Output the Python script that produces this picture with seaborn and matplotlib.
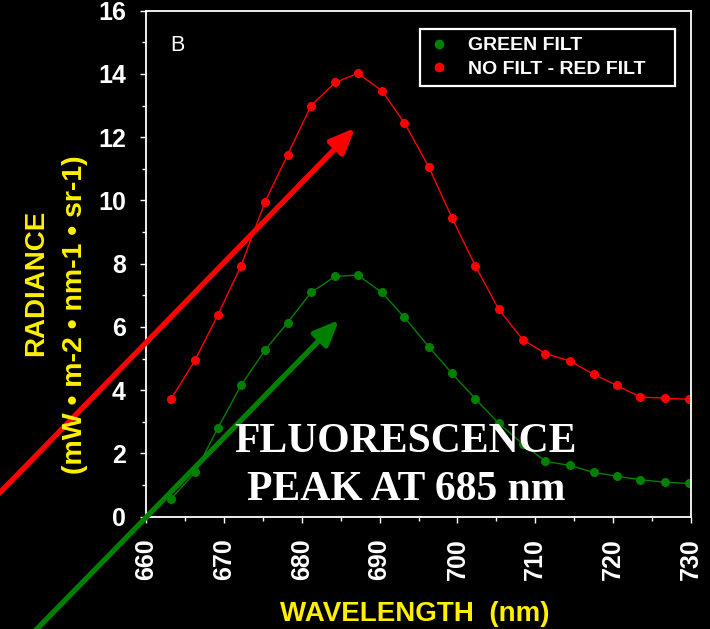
import numpy as np
import pandas as pd
import matplotlib
matplotlib.use("Agg")
import matplotlib.pyplot as plt
from matplotlib.lines import Line2D
from matplotlib.ticker import MultipleLocator
import seaborn as sns

# ---- data ----
wavelength = [663.2, 666.3, 669.2, 672.2, 675.3, 678.2, 681.2, 684.3, 687.2, 690.3,
              693.2, 696.3, 699.3, 702.3, 705.3, 708.4, 711.3, 714.5, 717.5, 720.5,
              723.5, 726.7, 729.7]
green_filt = [0.56, 1.40, 2.79, 4.15, 5.27, 6.14, 7.09, 7.60, 7.64, 7.09,
              6.30, 5.38, 4.53, 3.73, 2.95, 2.30, 1.75, 1.62, 1.40, 1.28,
              1.17, 1.09, 1.05]
red_diff = [3.71, 4.95, 6.37, 7.93, 9.96, 11.45, 13.0, 13.73, 14.02, 13.47,
            12.45, 11.07, 9.45, 7.93, 6.56, 5.60, 5.16, 4.92, 4.50, 4.15,
            3.78, 3.75, 3.71]
series_names = ["GREEN FILT", "NO FILT - RED FILT"]
x_ticks = [660, 670, 680, 690, 700, 710, 720, 730]
y_ticks = [0, 2, 4, 6, 8, 10, 12, 14, 16]

GREEN = "#008000"
RED = "#FF0000"
YELLOW = "#FFF000"

df = pd.DataFrame({
    "wl": wavelength * 2,
    "rad": green_filt + red_diff,
    "series": [series_names[0]] * len(wavelength) + [series_names[1]] * len(wavelength),
})

sns.set_theme(style="ticks")
plt.rcParams["font.family"] = ["Liberation Sans", "DejaVu Sans"]
plt.rcParams["figure.facecolor"] = "black"
plt.rcParams["axes.facecolor"] = "black"
plt.rcParams["savefig.facecolor"] = "black"

fig = plt.figure(figsize=(7.1, 6.29), dpi=100)
W, H = 710, 629
ax = fig.add_axes([146 / W, 1 - 516.7 / H, 545 / W, (516.7 - 10.7) / H])

sns.lineplot(data=df, x="wl", y="rad", hue="series",
             palette={series_names[0]: GREEN, series_names[1]: RED},
             marker="o", markersize=6.5, markeredgewidth=0, linewidth=1.0,
             legend=False, errorbar=None, sort=False, ax=ax)

ax.set_xlim(660, 730)
ax.set_ylim(0, 16)
ax.set_xticks(x_ticks)
ax.set_yticks(y_ticks)
ax.xaxis.set_minor_locator(MultipleLocator(5))
ax.yaxis.set_minor_locator(MultipleLocator(1))
ax.set_xlabel("")
ax.set_ylabel("")
for s in ax.spines.values():
    s.set_color("white")
    s.set_linewidth(1.3)
ax.tick_params(axis="both", which="both", colors="white", direction="out", width=1.0)
ax.tick_params(axis="both", which="major", length=4, labelsize=18)
ax.tick_params(axis="both", which="minor", length=3)
ax.tick_params(axis="y", which="major", pad=10.5)
ax.tick_params(axis="x", which="major", pad=11.5, labelrotation=90)
for lbl in ax.get_xticklabels() + ax.get_yticklabels():
    lbl.set_fontweight("bold")
    lbl.set_color("white")

# arrows
for head, tail, col in [((686.84, 12.29), (640.4, 0.55), RED),
                        ((684.79, 6.22), (645.0, -3.8), GREEN)]:
    ann = ax.annotate("", xy=head, xytext=tail,
                      arrowprops=dict(arrowstyle="-|>,head_length=0.75,head_width=0.32",
                                      color=col, lw=3.8, mutation_scale=20,
                                      shrinkA=0, shrinkB=0),
                      annotation_clip=False, zorder=6)
    ann.arrow_patch.set_clip_on(False)

# legend
handles = [Line2D([], [], linestyle="none", marker="o", markersize=7,
                  markeredgewidth=0, color=c) for c in (GREEN, RED)]
x0 = (420 - 146) / 545
x1 = (675 - 146) / 545
y1 = (516.7 - 29) / 506
y0 = (516.7 - 89) / 506
leg = ax.legend(handles, series_names, loc="upper left",
                bbox_to_anchor=(x0, y0, x1 - x0, y1 - y0), mode="expand",
                borderaxespad=0, frameon=True, fancybox=False,
                prop={"family": ["Liberation Sans"], "weight": "bold", "size": 14},
                handlelength=1.2, handletextpad=0.85, borderpad=0.4, labelspacing=0.3)
leg.get_frame().set_facecolor("black")
leg.get_frame().set_edgecolor("white")
leg.get_frame().set_linewidth(1.6)
leg.get_frame().set_alpha(1)
for t in leg.get_texts():
    t.set_color("white")
leg.set_zorder(8)

# panel letter
ax.text((170.7 - 146) / 545, (516.7 - 50.7) / 506, "B", transform=ax.transAxes,
        color="white", fontsize=15.5, va="baseline", ha="left")

# annotation text
serif = ["Liberation Serif", "DejaVu Serif"]
ax.text((405.5 - 146) / 545, (516.7 - 452) / 506, "FLUORESCENCE", transform=ax.transAxes,
        color="white", fontsize=30, fontweight="bold", family=serif,
        ha="center", va="baseline", zorder=9)
ax.text((406 - 146) / 545, (516.7 - 500) / 506, "PEAK AT 685 nm", transform=ax.transAxes,
        color="white", fontsize=30, fontweight="bold", family=serif,
        ha="center", va="baseline", zorder=9)

# axis titles
fig.text(415 / W, (H - 621) / H, "WAVELENGTH  (nm)", color=YELLOW, fontsize=20,
         fontweight="bold", ha="center", va="baseline")
fig.text(43.3 / W, 1 - 283 / H, "RADIANCE", color=YELLOW, fontsize=20,
         fontweight="bold", rotation=90, rotation_mode="anchor",
         ha="center", va="baseline")
fig.text(82 / W, 1 - 315 / H, "(mW \u2022 m-2 \u2022 nm-1 \u2022 sr-1)", color=YELLOW,
         fontsize=20.5, fontweight="bold", rotation=90, rotation_mode="anchor",
         ha="center", va="baseline")

fig.savefig("out.png", dpi=100, facecolor="black")
